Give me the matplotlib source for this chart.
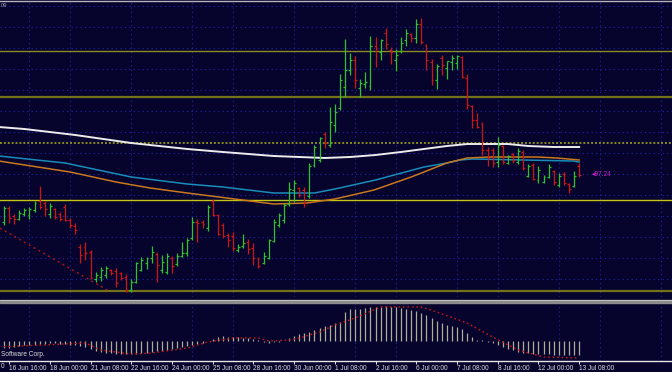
import matplotlib
matplotlib.use("Agg")
import matplotlib.pyplot as plt
from matplotlib.patches import Rectangle
from matplotlib.lines import Line2D
import numpy as np

# ---- data (H4 bars, price units) ----
opens = [96.77, 96.91, 96.83, 96.80, 96.85, 96.84, 96.89, 96.98, 96.96, 96.85,
         96.90, 96.85, 96.92, 96.79, 96.73, 96.52, 96.52, 96.47, 96.20, 96.22,
         96.24, 96.29, 96.28, 96.26, 96.22, 96.09, 96.17, 96.29, 96.36, 96.41,
         96.45, 96.29, 96.27, 96.41, 96.35, 96.43, 96.46, 96.61, 96.77, 96.77,
         96.71, 96.98, 96.84, 96.74, 96.64, 96.63, 96.49, 96.53, 96.57, 96.51,
         96.41, 96.36, 96.41, 96.58, 96.74, 96.79, 96.95, 97.09, 97.11, 97.09,
         97.03, 97.34, 97.39, 97.65, 97.54, 97.74, 97.91, 98.12, 98.29, 98.39,
         98.11, 98.15, 98.13, 98.53, 98.47, 98.66, 98.49, 98.39, 98.48, 98.59,
         98.65, 98.61, 98.75, 98.54, 98.37, 98.19, 98.41, 98.31, 98.37, 98.36,
         98.42, 98.21, 97.93, 97.79, 97.75, 97.49, 97.49, 97.37, 97.53, 97.36,
         97.45, 97.37, 97.47, 97.23, 97.34, 97.19, 97.17, 97.22, 97.28, 97.14,
         97.25, 97.15, 97.13, 97.33]
highs = [96.93, 96.93, 96.85, 96.89, 96.91, 96.92, 96.98, 97.13, 96.98, 96.96,
         96.91, 96.87, 96.95, 96.81, 96.76, 96.55, 96.57, 96.49, 96.27, 96.32,
         96.33, 96.30, 96.31, 96.27, 96.25, 96.20, 96.37, 96.42, 96.42, 96.53,
         96.47, 96.44, 96.46, 96.43, 96.46, 96.57, 96.61, 96.82, 96.80, 96.79,
         96.94, 97.00, 96.85, 96.76, 96.66, 96.67, 96.55, 96.65, 96.60, 96.56,
         96.42, 96.47, 96.60, 96.80, 96.86, 96.96, 97.17, 97.19, 97.12, 97.12,
         97.36, 97.54, 97.62, 97.67, 97.92, 97.95, 98.25, 98.60, 98.46, 98.43,
         98.20, 98.27, 98.63, 98.62, 98.60, 98.71, 98.52, 98.50, 98.62, 98.70,
         98.66, 98.80, 98.81, 98.55, 98.40, 98.35, 98.44, 98.38, 98.44, 98.44,
         98.43, 98.25, 97.94, 97.86, 97.77, 97.52, 97.51, 97.62, 97.54, 97.44,
         97.46, 97.51, 97.49, 97.35, 97.36, 97.33, 97.24, 97.35, 97.29, 97.26,
         97.27, 97.16, 97.28, 97.36]
lows = [96.74, 96.76, 96.75, 96.79, 96.83, 96.80, 96.87, 96.90, 96.83, 96.81,
        96.80, 96.78, 96.78, 96.71, 96.65, 96.36, 96.39, 96.20, 96.17, 96.18,
        96.21, 96.24, 96.12, 96.19, 96.07, 96.07, 96.16, 96.28, 96.30, 96.36,
        96.17, 96.26, 96.25, 96.26, 96.33, 96.42, 96.43, 96.59, 96.57, 96.71,
        96.68, 96.83, 96.64, 96.61, 96.52, 96.48, 96.47, 96.51, 96.45, 96.34,
        96.31, 96.35, 96.40, 96.57, 96.72, 96.76, 96.93, 96.97, 97.02, 96.92,
        97.01, 97.32, 97.37, 97.51, 97.52, 97.67, 97.89, 98.02, 98.24, 98.11,
        98.02, 98.11, 98.09, 98.32, 98.39, 98.50, 98.35, 98.28, 98.46, 98.53,
        98.57, 98.56, 98.55, 98.29, 98.14, 98.10, 98.24, 98.20, 98.29, 98.30,
        98.21, 97.90, 97.71, 97.71, 97.44, 97.33, 97.32, 97.32, 97.35, 97.35,
        97.36, 97.35, 97.29, 97.22, 97.19, 97.16, 97.16, 97.21, 97.14, 97.12,
        97.14, 97.06, 97.12, 97.22]
closes = [96.91, 96.81, 96.80, 96.86, 96.89, 96.90, 96.96, 96.92, 96.90, 96.93,
          96.82, 96.80, 96.79, 96.74, 96.69, 96.44, 96.46, 96.21, 96.24, 96.29,
          96.31, 96.26, 96.16, 96.21, 96.08, 96.17, 96.36, 96.39, 96.41, 96.47,
          96.34, 96.37, 96.43, 96.33, 96.43, 96.46, 96.59, 96.77, 96.76, 96.75,
          96.92, 96.84, 96.65, 96.63, 96.59, 96.51, 96.52, 96.56, 96.50, 96.41,
          96.33, 96.43, 96.59, 96.77, 96.84, 96.94, 97.10, 97.16, 97.04, 96.96,
          97.33, 97.52, 97.61, 97.56, 97.77, 97.87, 98.19, 98.29, 98.39, 98.19,
          98.16, 98.17, 98.53, 98.51, 98.59, 98.55, 98.47, 98.44, 98.56, 98.66,
          98.61, 98.75, 98.57, 98.39, 98.19, 98.33, 98.34, 98.38, 98.41, 98.43,
          98.22, 97.94, 97.79, 97.72, 97.49, 97.41, 97.36, 97.54, 97.37, 97.43,
          97.39, 97.48, 97.31, 97.33, 97.20, 97.29, 97.22, 97.32, 97.17, 97.23,
          97.16, 97.10, 97.23, 97.24]

# moving averages, read at bar positions
ma_white_x = [-1, 4, 14, 25, 36, 43, 53, 58, 63, 68, 73, 78, 87, 91, 99, 103, 108, 113]
ma_white_y = [97.72, 97.70, 97.64, 97.56, 97.50, 97.47, 97.43, 97.42, 97.41, 97.42,
              97.44, 97.47, 97.53, 97.55, 97.55, 97.53, 97.52, 97.52]
ma_cyan_x = [-1, 12, 25, 36, 43, 53, 61, 65, 73, 82.5, 87, 89.6, 92, 102, 111.8, 113]
ma_cyan_y = [97.43, 97.36, 97.22, 97.15, 97.12, 97.06, 97.06, 97.10, 97.19, 97.32,
             97.36, 97.39, 97.40, 97.39, 97.38, 97.37]
ma_orange_x = [-1, 13, 22, 28.7, 36, 43, 53, 59.5, 65, 72.7, 80, 87, 91, 95.5, 104.7, 108.6, 113]
ma_orange_y = [97.38, 97.27, 97.17, 97.11, 97.06, 97.015, 96.95, 96.96, 97.00, 97.09,
               97.22, 97.36, 97.41, 97.42, 97.42, 97.41, 97.39]

trend_x = [-0.8, 20.6]
trend_y = [96.71, 96.08]

level_top = 98.98
levels_olive = [98.48, 98.02, 96.08]
level_dotted = 97.56
level_yellow = 96.99
last_price = "97.24"

# MACD (pips)
macd_hist = [-7, -7, -6, -5.3, -4.7, -4.3, -4.3, -3.3, -3.3, -2.7,
             -2.7, -3.3, -3.7, -4.3, -4.3, -5.0, -6.5, -8.7, -10, -11,
             -12, -12.7, -13.3, -13.3, -13.7, -13.7, -13, -12.7, -12, -11,
             -10.7, -10, -9.3, -8.3, -7.3, -6.3, -5.3, -4, -3, -2,
             -0.7, 1.3, 3.3, 4.3, 4, 3.7, 3.3, 3, 2.3, 1.7,
             0.3, -1, -2, -1.7, -1, -0.3, 2.3, 5, 6.3, 8,
             9, 10.7, 12.3, 14.7, 16, 18, 19, 29, 31.3, 31.7,
             31.7, 32.3, 33.3, 34, 34, 34.7, 34, 34, 32.3, 31.7,
             30.7, 30, 28, 25.7, 22.3, 20, 17.3, 15.7, 14.7, 13.3,
             11.3, 8, 4, 0.7, 0.3, -1, -2.7, -4.3, -6.7, -8.7,
             -9.3, -11, -12, -12.7, -13.3, -13.3, -13.7, -13.7, -14.3, -14.3,
             -14.3, -14.3, -14.3, -14.3]
signal_x = [0, 12, 16, 19, 25, 29, 36, 40, 45, 50, 52, 56, 58, 62, 65, 69, 74, 82,
            85, 91, 96, 101, 106, 113]
signal_y = [-6, -3.3, -2.3, -9.3, -13.3, -12.3, -7.3, -1.3, 2.7, 2.7, -0.3, 0.7, 2.7,
            8.7, 15.7, 22.7, 33.7, 33.7, 28.7, 17.7, 3.7, -9.3, -16.3, -17.3]

time_idx = [1, 9, 17, 25, 33, 41, 49, 57, 65, 73, 81, 89, 97, 105, 113]
time_labels = ["16 Jun 16:00", "18 Jun 00:00", "21 Jun 08:00", "22 Jun 16:00",
               "24 Jun 00:00", "25 Jun 08:00", "28 Jun 16:00", "30 Jun 00:00",
               "1 Jul 08:00", "2 Jul 16:00", "6 Jul 00:00", "7 Jul 08:00",
               "8 Jul 16:00", "12 Jul 00:00", "13 Jul 08:00"]
vgrid_idx = [5, 13, 25, 37, 45, 57, 69, 77, 89, 97, 109, 117, 129]
hgrid_levels = 98.93 - 0.21 * np.arange(14)

# ---- style ----
BG = "#06042c"
GRID = "#2424b0"
UP = "#2ec22e"
DOWN = "#cc1616"
FONT = "Liberation Sans"
XLIM = (-0.786, 131.24)

fig = plt.figure(figsize=(6.72, 3.72), dpi=100, facecolor=BG)

# main price window
ax = fig.add_axes([0, 75 / 372, 1, 297 / 372])
ax.set_facecolor(BG)
ax.set_xlim(*XLIM)
ax.set_ylim(96.02, 98.99)
for s in ax.spines.values():
    s.set_visible(False)
ax.set_xticks(vgrid_idx)
ax.set_yticks(hgrid_levels)
ax.tick_params(length=0, labelleft=False, labelbottom=False)
ax.grid(True, color=GRID, linestyle=(0, (1, 3)), linewidth=0.8)
ax.set_axisbelow(True)

ax.axhline(level_top, color="#b4b4bc", lw=1.0)
ax.axhline(levels_olive[0], color="#8a8a22", lw=1.0)
ax.axhline(levels_olive[1], color="#72721a", lw=1.6)
ax.axhline(levels_olive[2], color="#72721a", lw=1.6)
ax.axhline(level_dotted, color="#8a8a1e", lw=1.4, linestyle=(0, (1, 1)))
ax.axhline(level_yellow, color="#c4c416", lw=1.0)

ax.plot(trend_x, trend_y, color="#b01616", lw=1.0, linestyle=(0, (1.5, 2.5)))

ax.plot(ma_white_x, ma_white_y, color="#ececec", lw=1.4)
ax.plot(ma_cyan_x, ma_cyan_y, color="#1a8cba", lw=1.1)
ax.plot(ma_orange_x, ma_orange_y, color="#c8781e", lw=1.1)

idx = np.arange(len(closes))
o = np.array(opens)
c = np.array(closes)
cols = np.where(c >= o, UP, DOWN)
ax.vlines(idx, lows, highs, colors=cols, lw=0.9)
ax.hlines(o, idx - 0.38, idx, colors=cols, lw=0.9)
ax.hlines(c, idx, idx + 0.38, colors=cols, lw=0.9)

ax.text(115.6, closes[-1], "\u25c2" + last_price, color="#c41cc4", fontsize=4.8,
        family=[FONT, "DejaVu Sans"], va="center", ha="left")
ax.text(-0.7, 98.93, "09", color="#9a9aa8", fontsize=4.2, family=FONT,
        va="center", ha="left")

# separator between windows
fig.patches.append(Rectangle((0, (372 - 302.5) / 372), 1, 2.5 / 372,
                             transform=fig.transFigure, color="#8c8c8c", zorder=5))
fig.lines.append(Line2D([0, 1], [(372 - 300) / 372] * 2, transform=fig.transFigure,
                        color="#c8c8c8", lw=0.6, zorder=6))

# MACD window
axm = fig.add_axes([0, 11 / 372, 1, 58 / 372])
axm.set_facecolor(BG)
axm.set_xlim(*XLIM)
axm.set_ylim(-20.3, 37.7)
for k, s in axm.spines.items():
    s.set_visible(k == "bottom")
axm.spines["bottom"].set_color("#e6e6e6")
axm.spines["bottom"].set_linewidth(1.0)
axm.set_yticks([])
axm.set_xticks(vgrid_idx, minor=True)
axm.set_xticks(time_idx)
axm.set_xticklabels(time_labels, fontsize=4.7, family=FONT, color="#dcdcdc")
for lbl in axm.get_xticklabels():
    lbl.set_ha("left")
axm.tick_params(axis="x", which="major", direction="out", length=2.2, width=0.7,
                color="#e6e6e6", pad=1.0)
axm.tick_params(axis="x", which="minor", length=0)
axm.grid(True, which="minor", axis="x", color=GRID, linestyle=(0, (1, 3)), linewidth=0.8)
axm.set_axisbelow(True)

axm.vlines(idx, 0, macd_hist, colors="#aeae98", lw=0.9)
axm.plot(signal_x, signal_y, color="#c81818", lw=1.0, linestyle=(0, (1.2, 2)))

fig.text(1 / 672, (372 - 355) / 372, "Software Corp.", color="#dcdcdc",
         fontsize=4.7, family=FONT, va="center", ha="left")
fig.text(1 / 672, (372 - 367) / 372, "0", color="#dcdcdc",
         fontsize=4.7, family=FONT, va="center", ha="left")

fig.savefig("out.png", dpi=100, facecolor=BG)
